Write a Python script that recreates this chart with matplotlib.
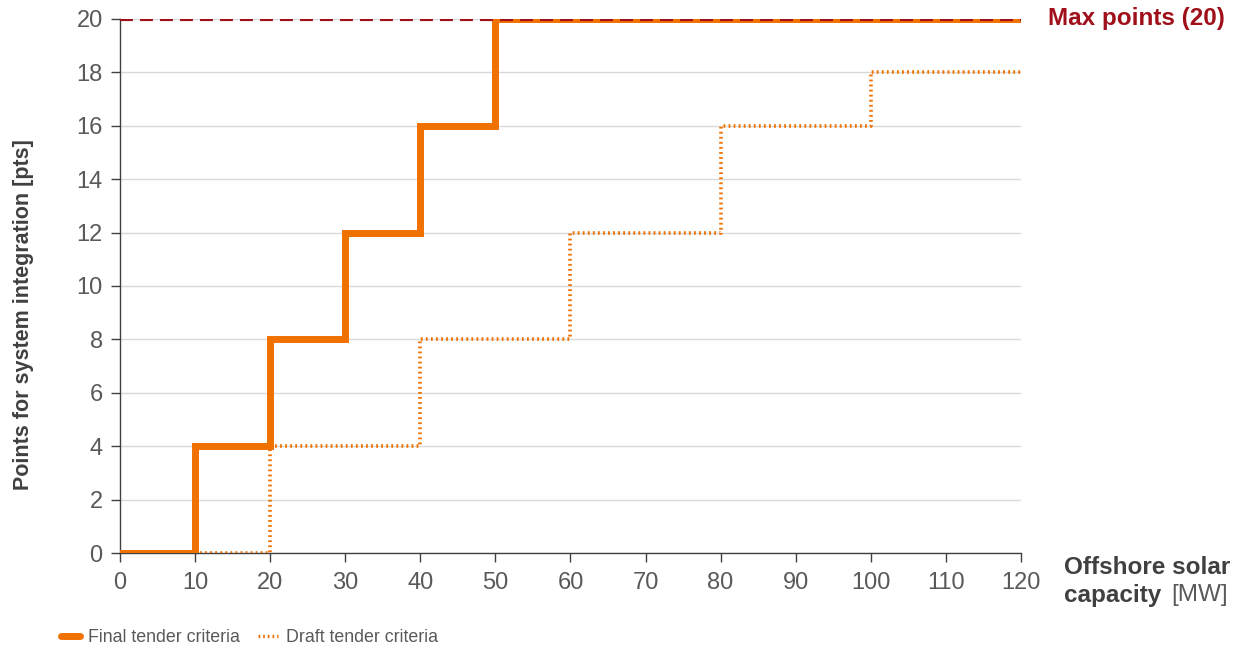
import matplotlib.pyplot as plt
from matplotlib.lines import Line2D

plt.rcParams['font.family'] = ['Liberation Sans', 'DejaVu Sans']

# step thresholds (MW) and points awarded
final_mw = [0, 10, 20, 30, 40, 50, 120]
final_pts = [0, 4, 8, 12, 16, 20, 20]
draft_mw = [10, 20, 40, 60, 80, 100, 120]
draft_pts = [0, 4, 8, 12, 16, 18, 18]
max_pts = 20

orange = '#F07000'
darkred = '#A0101A'
grey = '#595959'
dark = '#404040'

fig = plt.figure(figsize=(12.45, 6.52), dpi=100)
ax = fig.add_axes([0.0964, 0.1518, 0.7236, 0.8191])

ax.step(draft_mw, draft_pts, where='post', color=orange, lw=2.6,
        linestyle=(0, (0.5, 0.9)), zorder=3)
ax.step(final_mw, final_pts, where='post', color=orange, lw=5, zorder=4,
        solid_joinstyle='miter')
ax.axhline(max_pts, color=darkred, lw=3, linestyle=(0, (3.1, 1.7)), zorder=5)

ax.set_xlim(0, 120)
ax.set_ylim(0, 20)
ax.set_xticks(range(0, 121, 10))
ax.set_yticks(range(0, 21, 2))
ax.yaxis.grid(True, color='#d9d9d9', lw=1)
ax.set_axisbelow(True)
for s in ['top', 'right']:
    ax.spines[s].set_visible(False)
for s in ['left', 'bottom']:
    ax.spines[s].set_color(dark)
    ax.spines[s].set_linewidth(1)
ax.tick_params(axis='both', direction='out', length=6.5, width=1,
               color=dark, labelcolor=grey, labelsize=17, pad=7)
ax.tick_params(axis='y', pad=6)

ax.set_ylabel('Points for system integration [pts]', fontsize=15.5,
              fontweight='bold', color=dark)
ax.yaxis.set_label_coords(-0.095, 0.446)

fig.text(0.855, 0.130, 'Offshore solar', fontsize=17.5, fontweight='bold',
         color=dark, va='center', ha='left')
fig.text(0.855, 0.087, 'capacity', fontsize=17.5, fontweight='bold',
         color=dark, va='center', ha='left')
fig.text(0.9405, 0.087, '[MW]', fontsize=17.5, color=grey, va='center',
         ha='left')

ax.text(1.03, max_pts, 'Max points (20)', transform=ax.get_yaxis_transform(),
        fontsize=17.5, fontweight='bold', color=darkred, va='center',
        ha='left', clip_on=False)

handles = [
    Line2D([], [], color=orange, lw=5, solid_capstyle='round'),
    Line2D([], [], color=orange, lw=2.4, linestyle=(0, (0.5, 0.9))),
]
fig.legend(handles, ['Final tender criteria', 'Draft tender criteria'],
           loc='center left', bbox_to_anchor=(0.036, 0.022), ncol=2,
           frameon=False, fontsize=12.8, labelcolor=grey, handlelength=1.1,
           handletextpad=0.45, columnspacing=1.0)

fig.savefig('out.png', dpi=100)
